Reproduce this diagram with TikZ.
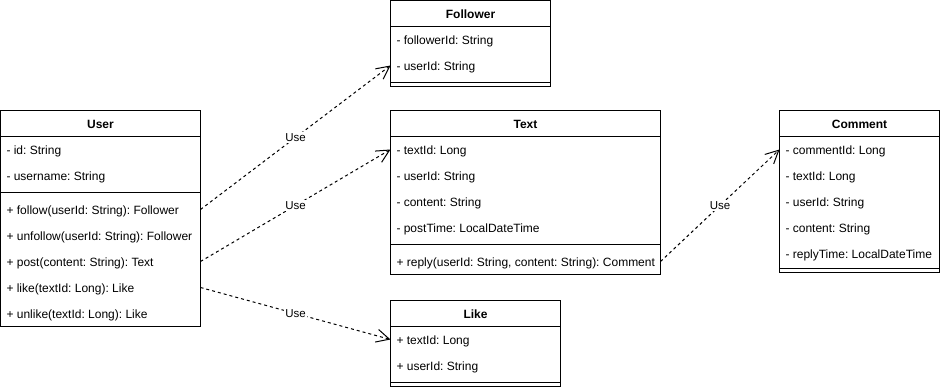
\documentclass[tikz,border=0pt]{standalone}
\usepackage{fontspec}
\setmainfont{Liberation Sans}
\frenchspacing
\usetikzlibrary{arrows.meta,calc}

\tikzset{
  classhead/.style={draw, rectangle, anchor=north west, inner sep=0pt, minimum height=26pt,
    font=\fontsize{12}{14}\selectfont\bfseries, text height=12pt, text depth=2pt},
  classpart/.style={draw, rectangle, anchor=north west, inner sep=0pt},
  classrow/.style={anchor=west, inner sep=0pt, text height=12pt, text depth=2pt},
  usedep/.style={dash pattern=on 3pt off 3pt, -{Straight Barb[length=13pt, width=13pt]}},
  uselabel/.style={midway, fill=white, inner sep=1pt, font=\fontsize{11.5}{13}\selectfont}
}

\begin{document}
\begin{tikzpicture}[x=1pt, y=-1pt, line width=1pt, outer sep=0pt, font=\fontsize{12}{14}\selectfont]
  \useasboundingbox (-0.5,-0.5) rectangle (940.5,386.5);

  % User
  \node (user) [classhead, minimum width=200pt] at (0,110) {User};
  \node (userattr) [classpart, minimum width=200pt, minimum height=56pt] at (user.south west) {};
  \node (userops) [classpart, minimum width=200pt, minimum height=134pt] at (userattr.south west) {};
  \foreach \member [count=\i] in {- id: String, - username: String}
    \node (user-a\i) [classrow] at ($(userattr.north west)+(6,{13+26*(\i-1)})$) {\member};
  \foreach \member [count=\i] in {+ follow(userId: String): Follower, + unfollow(userId: String): Follower,
      + post(content: String): Text, + like(textId: Long): Like, + unlike(textId: Long): Like}
    \node (user-m\i) [classrow] at ($(userops.north west)+(6,{17+26*(\i-1)})$) {\member};

  % Follower
  \node (follower) [classhead, minimum width=160pt] at (390,0) {Follower};
  \node (followerattr) [classpart, minimum width=160pt, minimum height=56pt] at (follower.south west) {};
  \node (followerops) [classpart, minimum width=160pt, minimum height=4pt] at (followerattr.south west) {};
  \foreach \member [count=\i] in {- followerId: String, - userId: String}
    \node (follower-a\i) [classrow] at ($(followerattr.north west)+(6,{13+26*(\i-1)})$) {\member};

  % Text
  \node (text) [classhead, minimum width=270pt] at (390,110) {Text};
  \node (textattr) [classpart, minimum width=270pt, minimum height=108pt] at (text.south west) {};
  \node (textops) [classpart, minimum width=270pt, minimum height=30pt] at (textattr.south west) {};
  \foreach \member [count=\i] in {- textId: Long, - userId: String, - content: String, - postTime: LocalDateTime}
    \node (text-a\i) [classrow] at ($(textattr.north west)+(6,{13+26*(\i-1)})$) {\member};
  \node (text-m1) [classrow] at ($(textops.north west)+(6,17)$) {+ reply(userId: String, content: String): Comment};

  % Comment
  \node (comment) [classhead, minimum width=160pt] at (779,110) {Comment};
  \node (commentattr) [classpart, minimum width=160pt, minimum height=132pt] at (comment.south west) {};
  \node (commentops) [classpart, minimum width=160pt, minimum height=4pt] at (commentattr.south west) {};
  \foreach \member [count=\i] in {- commentId: Long, - textId: Long, - userId: String, - content: String,
      - replyTime: LocalDateTime}
    \node (comment-a\i) [classrow] at ($(commentattr.north west)+(6,{13+26*(\i-1)})$) {\member};

  % Like
  \node (like) [classhead, minimum width=170pt] at (390,300) {Like};
  \node (likeattr) [classpart, minimum width=170pt, minimum height=56pt] at (like.south west) {};
  \node (likeops) [classpart, minimum width=170pt, minimum height=4pt] at (likeattr.south west) {};
  \foreach \member [count=\i] in {+ textId: Long, + userId: String}
    \node (like-a\i) [classrow] at ($(likeattr.north west)+(6,{13+26*(\i-1)})$) {\member};

  % Dependencies
  \draw[usedep] (user-m1 -| userops.east) -- (follower-a2 -| follower.west) node[uselabel] {Use};
  \draw[usedep] (user-m3 -| userops.east) -- (text-a1 -| text.west) node[uselabel] {Use};
  \draw[usedep] (user-m4 -| userops.east) -- (like-a1 -| like.west) node[uselabel] {Use};
  \draw[usedep] (text-m1 -| textops.east) -- (comment-a1 -| comment.west) node[uselabel] {Use};
\end{tikzpicture}
\end{document}
